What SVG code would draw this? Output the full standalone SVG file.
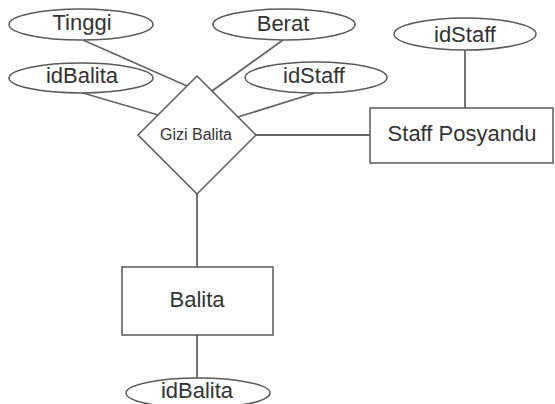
<svg xmlns="http://www.w3.org/2000/svg" width="555" height="404" viewBox="0 0 555 404">
<style>
.shape{fill:#fff;stroke:#5a5a5a;stroke-width:1.5}
.conn line{stroke:#666;stroke-width:1.8}
text{font-family:"Liberation Sans",Arial,sans-serif;fill:#333;text-anchor:middle}
.lbl{font-size:22px}
.small{font-size:16px}
</style>
<rect width="555" height="404" fill="#fff"/>
<g class="conn" id="connectors">
<line x1="83" y1="40" x2="187" y2="86"/>
<line x1="83" y1="93" x2="158" y2="115"/>
<line x1="283" y1="40" x2="212" y2="91"/>
<line x1="315" y1="93" x2="238" y2="117"/>
<line x1="256" y1="135" x2="370" y2="135"/>
<line x1="197" y1="194" x2="197" y2="267"/>
<line x1="197" y1="335" x2="197" y2="378"/>
<line x1="465" y1="50" x2="465" y2="108"/>
</g>
<g id="attr-tinggi"><ellipse class="shape" cx="81" cy="24.5" rx="72" ry="15.5"/><text class="lbl" x="82" y="30">Tinggi</text></g>
<g id="attr-berat"><ellipse class="shape" cx="284" cy="24.5" rx="71" ry="15.5"/><text class="lbl" x="283" y="31">Berat</text></g>
<g id="attr-idbalita-rel"><ellipse class="shape" cx="81" cy="78" rx="72" ry="15"/><text class="lbl" x="82" y="83">idBalita</text></g>
<g id="attr-idstaff-rel"><ellipse class="shape" cx="316" cy="77.5" rx="71" ry="15.5"/><text class="lbl" x="314" y="83">idStaff</text></g>
<g id="attr-idstaff"><ellipse class="shape" cx="465" cy="34" rx="71" ry="16"/><text class="lbl" x="465" y="42">idStaff</text></g>
<g id="rel-gizi-balita"><polygon class="shape" points="197,76 256,135 197,194 138,135"/><text class="small" x="196" y="140">Gizi Balita</text></g>
<g id="ent-staff-posyandu"><rect class="shape" x="370" y="108" width="183" height="55"/><text class="lbl" x="462" y="141">Staff Posyandu</text></g>
<g id="ent-balita"><rect class="shape" x="122" y="267" width="151" height="68"/><text class="lbl" x="197" y="307">Balita</text></g>
<g id="attr-idbalita"><ellipse class="shape" cx="198" cy="393" rx="72" ry="15"/><text class="lbl" x="197" y="398">idBalita</text></g>
</svg>
